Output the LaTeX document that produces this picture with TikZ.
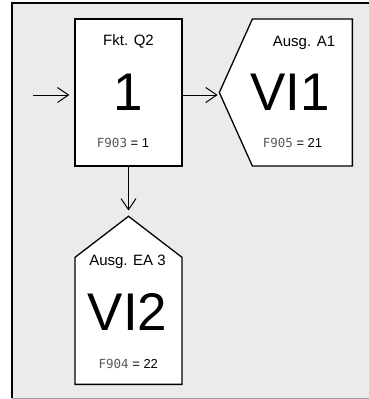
\documentclass[tikz,border=0pt]{standalone}
\usepackage{fontspec}
\setmainfont{Liberation Sans}
\setmonofont{DejaVu Sans Mono}
\usetikzlibrary{arrows.meta,shapes.symbols}
\definecolor{panel}{HTML}{EBEBEB}
\definecolor{rim}{HTML}{A0A0A0}
\newcommand{\segcode}[1]{{\fontsize{12.5}{15}\ttfamily\color{black!65}#1}}
\begin{document}
\begin{tikzpicture}[x=1pt, y=-1pt, font=\fontsize{15}{17}\selectfont,
    blk/.style={draw=black, fill=white, line width=1.3pt, inner sep=0pt},
    sig/.style={blk, shape=signal},
    big/.style={font=\fontsize{53}{56}\selectfont, anchor=base},
    lbl/.style={anchor=base},
    par/.style={anchor=base, font=\fontsize{13}{15}\selectfont},
    flow/.style={line width=1pt, -{Straight Barb[length=11pt,width=15pt]}}]
  \useasboundingbox (0,0) rectangle (368,399);

  % panel
  \fill[panel] (12,3) rectangle (370,398);
  \draw[rim, line width=1pt] (12,398) -- (370,398);
  \draw[line width=2pt] (12,398) -- (12,3) -- (370,3);

  % function block
  \node[blk, minimum width=107pt, minimum height=147pt] (q2) at (128.5,92.5) {};
  \node[lbl] (q2t) at (128.5,45.5) {Fkt. Q2};
  \node[big] (q2n) at (128.5,110) {1};
  \node[par] (q2p) at (123,147) {\segcode{F903} = 1};

  % output A1
  \node[sig, signal to=west, signal pointer angle=131.6,
        minimum width=133pt, minimum height=147pt, anchor=east] (a1) at (353,92.5) {};
  \node[lbl] (a1t) at (304,46.5) {Ausg. A1};
  \node[big] (a1n) at (290,110) {VI1};
  \node[par] (a1p) at (292.5,147) {\segcode{F905} = 21};

  % output EA 3
  \node[sig, signal to=north, signal pointer angle=105,
        minimum width=107pt, minimum height=127pt, anchor=south] (ea3) at (128.5,385) {};
  \node[lbl] (ea3t) at (127.5,265) {Ausg. EA 3};
  \node[big] (ea3n) at (127.5,330) {VI2};
  \node[par] (ea3p) at (128.3,368) {\segcode{F904} = 22};

  % connectors
  \coordinate (in) at (33,95);
  \draw[flow, shorten >=5pt] (in) -- (q2.west |- in);
  \draw[flow, shorten >=1pt] (q2.east |- in) -- (a1.west |- in);
  \draw[flow, shorten >=5pt] (q2.south) -- (ea3.north);
\end{tikzpicture}
\end{document}
